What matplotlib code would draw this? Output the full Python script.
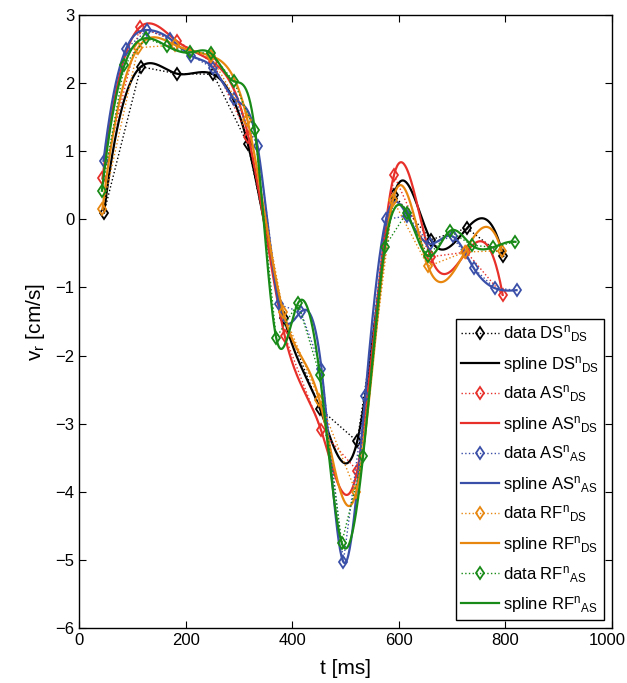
import matplotlib
matplotlib.use('Agg')
import matplotlib.pyplot as plt
import matplotlib.transforms as mtransforms
import numpy as np

plt.rcParams['font.family'] = ['Liberation Sans', 'DejaVu Sans']
plt.rcParams['mathtext.fontset'] = 'custom'
plt.rcParams['mathtext.rm'] = 'Liberation Sans'
plt.rcParams['mathtext.it'] = 'Liberation Sans'

# DS-sampled series (12 points)
t_ds_ds = [47, 116, 183, 252, 317, 385, 452, 522, 591, 660, 728, 796]
v_ds_ds = [0.10, 2.24, 2.14, 2.13, 1.10, -1.45, -2.78, -3.26, 0.36, -0.30, -0.13, -0.54]

t_as_ds = [44, 114, 183, 251, 318, 386, 454, 522, 591, 660, 727, 795]
v_as_ds = [0.60, 2.82, 2.62, 2.31, 1.21, -1.71, -3.09, -3.69, 0.65, -0.55, -0.48, -1.11]

t_rf_ds = [44, 111, 180, 247, 316, 383, 451, 520, 589, 655, 724, 793]
v_rf_ds = [0.15, 2.52, 2.56, 2.40, 1.46, -1.36, -2.65, -4.01, 0.29, -0.69, -0.48, -0.46]

# AS-sampled series (20 points)
t_as_as = [46, 88, 128, 171, 211, 252, 291, 335, 375, 416,
           455, 496, 537, 576, 616, 658, 701, 741, 780, 821]
v_as_as = [0.86, 2.50, 2.78, 2.65, 2.40, 2.22, 1.77, 1.08, -1.25, -1.36,
           -2.19, -5.03, -2.60, 0.00, 0.05, -0.36, -0.25, -0.72, -1.01, -1.04]

t_rf_as = [43, 85, 126, 166, 209, 247, 290, 330, 370, 411,
           452, 493, 533, 574, 615, 655, 696, 737, 777, 819]
v_rf_as = [0.42, 2.26, 2.66, 2.54, 2.45, 2.44, 2.03, 1.31, -1.74, -1.23,
           -2.29, -4.75, -3.48, -0.40, 0.10, -0.54, -0.17, -0.38, -0.41, -0.33]

series = [
    (t_ds_ds, v_ds_ds, '#000000', r'DS$^{\rm n}$$_{\rm DS}$'),
    (t_as_ds, v_as_ds, '#e8302a', r'AS$^{\rm n}$$_{\rm DS}$'),
    (t_as_as, v_as_as, '#3a4fa8', r'AS$^{\rm n}$$_{\rm AS}$'),
    (t_rf_ds, v_rf_ds, '#e8870f', r'RF$^{\rm n}$$_{\rm DS}$'),
    (t_rf_as, v_rf_as, '#178a17', r'RF$^{\rm n}$$_{\rm AS}$'),
]


def spline_nak(x, y, xs):
    # kubischer Spline, not-a-knot Randbedingung (wie MATLAB spline)
    x = np.asarray(x, float)
    y = np.asarray(y, float)
    n = len(x)
    h = np.diff(x)
    A = np.zeros((n, n))
    r = np.zeros(n)
    A[0, 0], A[0, 1], A[0, 2] = -h[1], h[0] + h[1], -h[0]
    A[-1, -3], A[-1, -2], A[-1, -1] = -h[-1], h[-2] + h[-1], -h[-2]
    for i in range(1, n - 1):
        A[i, i - 1] = h[i - 1]
        A[i, i] = 2 * (h[i - 1] + h[i])
        A[i, i + 1] = h[i]
        r[i] = 3 * ((y[i + 1] - y[i]) / h[i] - (y[i] - y[i - 1]) / h[i - 1])
    c = np.linalg.solve(A, r)
    b = (y[1:] - y[:-1]) / h - h * (2 * c[:-1] + c[1:]) / 3
    d = (c[1:] - c[:-1]) / (3 * h)
    idx = np.clip(np.searchsorted(x, xs) - 1, 0, n - 2)
    dx = xs - x[idx]
    return y[idx] + b[idx] * dx + c[idx] * dx ** 2 + d[idx] * dx ** 3


fig = plt.figure(figsize=(6.27, 6.83), dpi=100)
ax = fig.add_axes([0.126, 0.0805, 0.850, 0.8975])

for t, v, col, name in series:
    ax.plot(t, v, linestyle=':', linewidth=1.0, color=col, marker='d',
            markersize=6, markerfacecolor='none', markeredgewidth=1.3,
            label='data ' + name)
    ts = np.linspace(t[0], t[-1], 600)
    ax.plot(ts, spline_nak(t, v, ts), '-', linewidth=1.6, color=col,
            label='spline ' + name)

ax.set_xlim(0, 1000)
ax.set_ylim(-6, 3)
ax.set_xticks(np.arange(0, 1001, 200))
ax.set_yticks(np.arange(-6, 4, 1))
ax.set_yticklabels(['\u22126', '\u22125', '\u22124', '\u22123', '\u22122', '\u22121', '0', '1', '2', '3'])
ax.tick_params(direction='in', top=True, right=True, labelsize=12, length=5, width=0.8)
for s in ax.spines.values():
    s.set_linewidth(1.0)
ax.set_xlabel('t [ms]', fontsize=15, labelpad=8)
ax.set_ylabel(r'v$_{\rm r}$ [cm/s]', fontsize=15, labelpad=6)

# letzte x-Beschriftung etwas nach links, damit "1000" ganz sichtbar bleibt
lastlab = ax.get_xticklabels()[-1]
lastlab.set_transform(lastlab.get_transform() +
                      mtransforms.ScaledTranslation(-5 / 100, 0, fig.dpi_scale_trans))

leg = ax.legend(loc='lower right', fontsize=12, fancybox=False, framealpha=1,
                edgecolor='black', borderpad=0.3, labelspacing=0.55,
                handlelength=2.3, handletextpad=0.2, borderaxespad=0.5)
leg.get_frame().set_linewidth(1.0)

plt.savefig('out.png', dpi=100)
